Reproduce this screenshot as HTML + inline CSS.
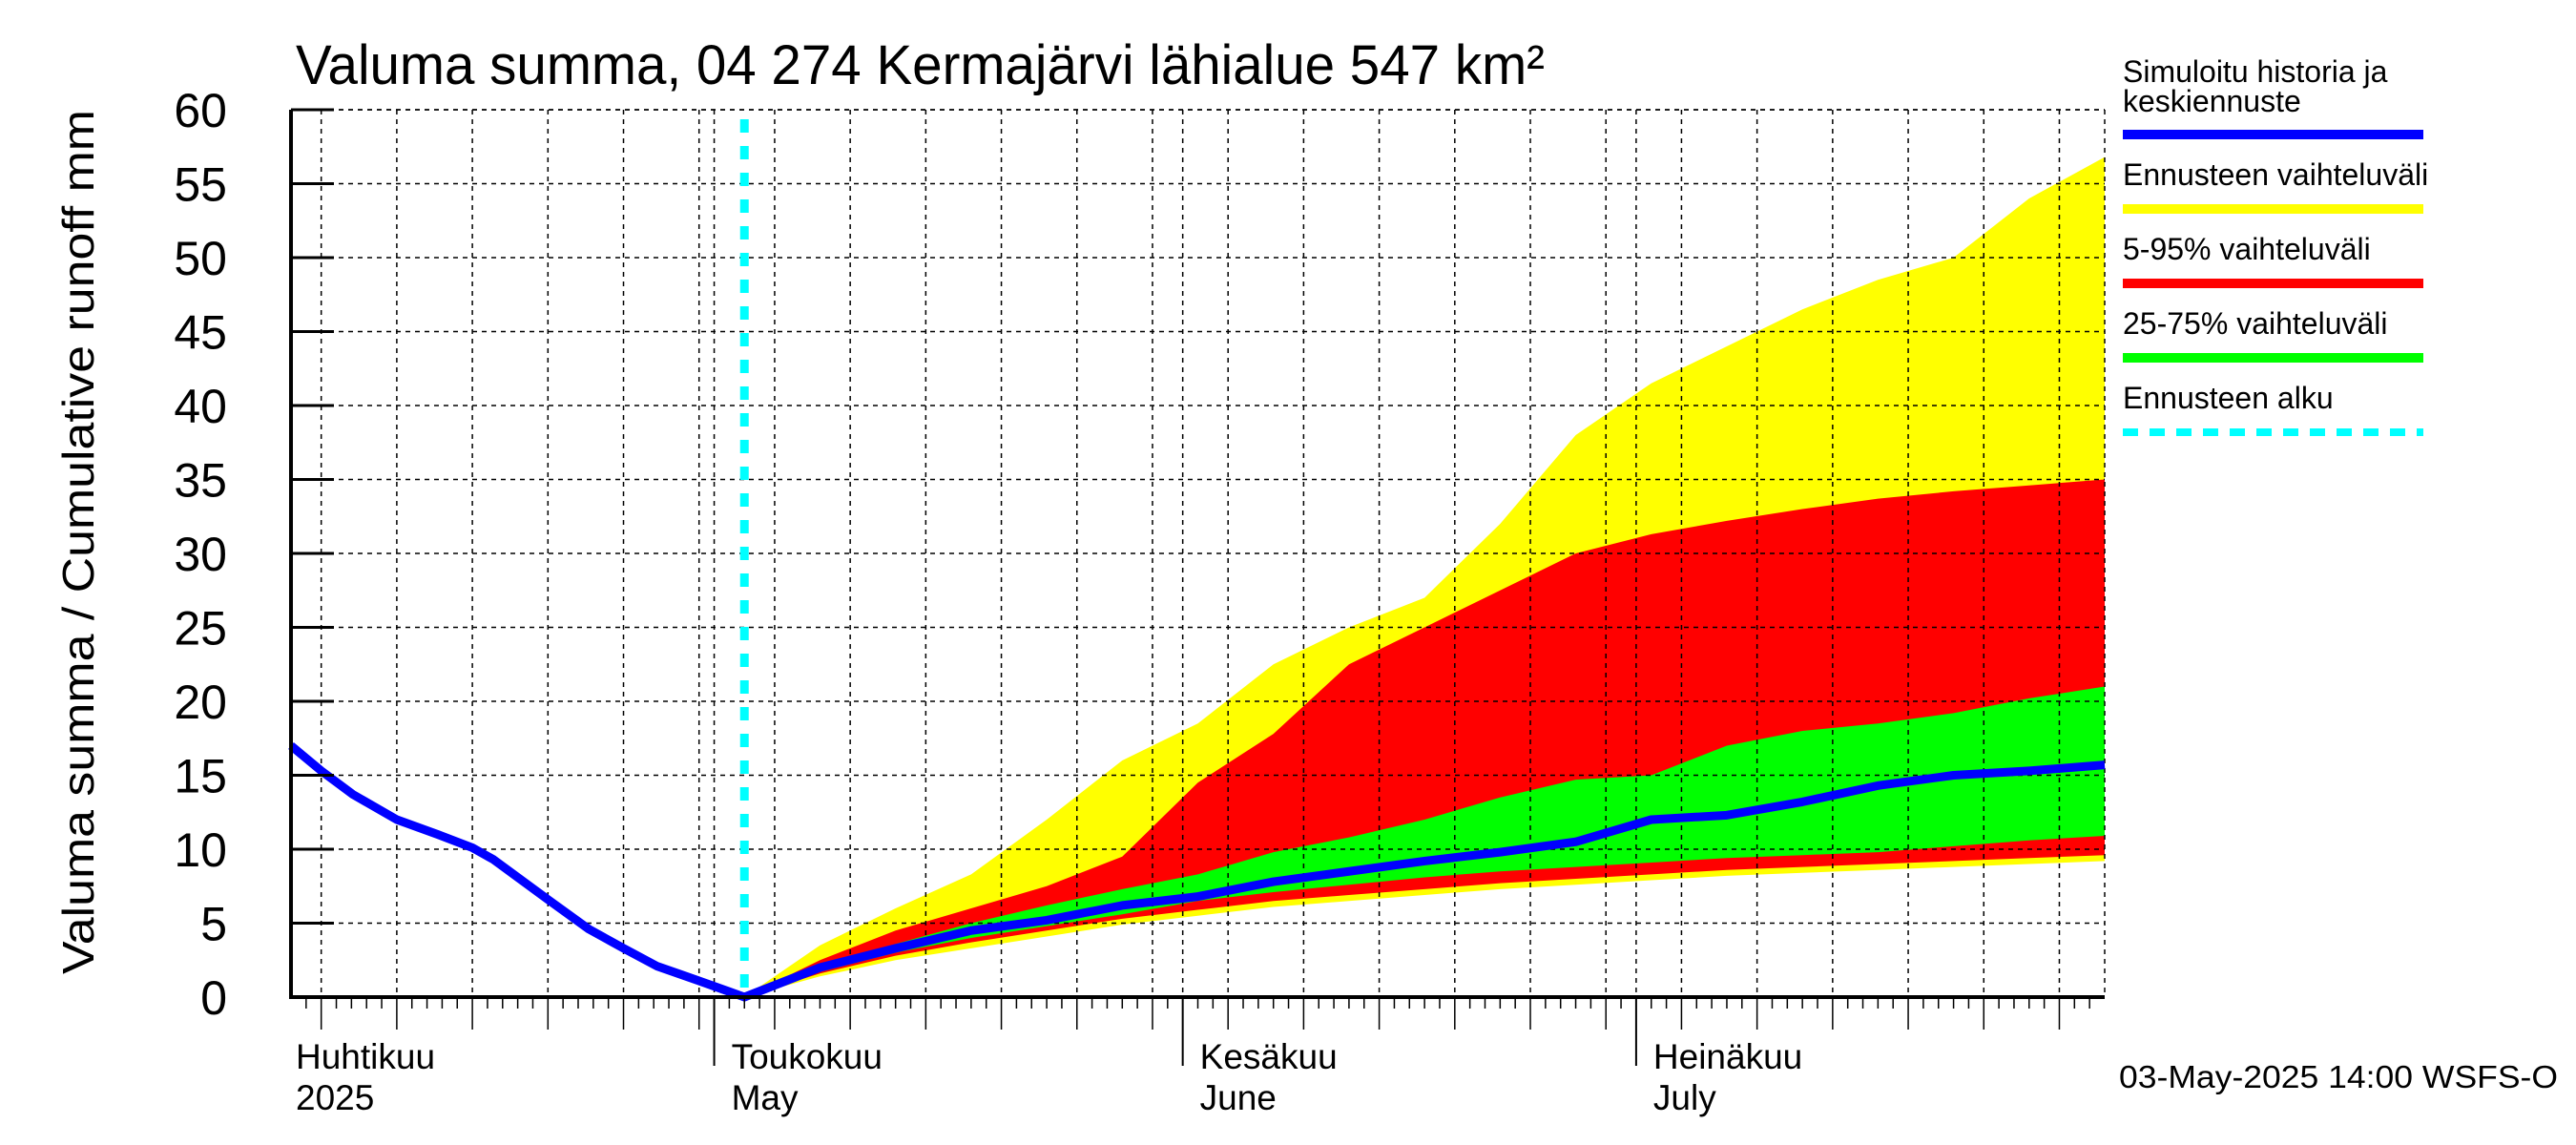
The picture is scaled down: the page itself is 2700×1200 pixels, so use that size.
<!DOCTYPE html>
<html><head><meta charset="utf-8"><style>
html,body{margin:0;padding:0;background:#fff}
svg{display:block}
text{font-family:"Liberation Sans",sans-serif;fill:#000}
</style></head><body>
<svg id="chart" width="2700" height="1200" viewBox="0 0 2700 1200" xmlns="http://www.w3.org/2000/svg">
<rect width="2700" height="1200" fill="#fff"/>
<g id="bands"></g>
<g id="grid"></g>
<g id="lines"></g>
<g id="axes"></g>
<text x="310" y="88" font-size="58" textLength="1309" lengthAdjust="spacingAndGlyphs">Valuma summa, 04 274 Kermajärvi lähialue 547 km²</text>
<text transform="translate(98,1021) rotate(-90)" font-size="46" textLength="906" lengthAdjust="spacingAndGlyphs">Valuma summa / Cumulative runoff    mm</text>
<g>
<text x="2225" y="86" font-size="32">Simuloitu historia ja</text>
<text x="2225" y="117" font-size="32">keskiennuste</text>
<line x1="2225" y1="141" x2="2540" y2="141" stroke="#0000ff" stroke-width="10"/>
<text x="2225" y="194" font-size="32">Ennusteen vaihteluväli</text>
<line x1="2225" y1="219" x2="2540" y2="219" stroke="#ffff00" stroke-width="10"/>
<text x="2225" y="272" font-size="32">5-95% vaihteluväli</text>
<line x1="2225" y1="297" x2="2540" y2="297" stroke="#ff0000" stroke-width="10"/>
<text x="2225" y="350" font-size="32">25-75% vaihteluväli</text>
<line x1="2225" y1="375" x2="2540" y2="375" stroke="#00ff00" stroke-width="10"/>
<text x="2225" y="428" font-size="32">Ennusteen alku</text>
<line x1="2225" y1="453" x2="2540" y2="453" stroke="#00ffff" stroke-width="8" stroke-dasharray="16,12"/>
</g>
<text x="2221" y="1140" font-size="33" textLength="460" lengthAdjust="spacingAndGlyphs">03-May-2025 14:00 WSFS-O</text>
</svg>
<script>
// days since 3 Apr 2025
const histT = [0, 2, 4.1, 7, 9.7, 12, 13.4, 17, 19.7, 22, 24.2, 27, 30];
const histV = [17, 15.3, 13.7, 12.0, 11.0, 10.1, 9.3, 6.6, 4.6, 3.3, 2.1, 1.1, 0];
const fcT = [30,35,40,45,50,55,60,65,70,75,80,85,90,95,100,105,110,115,120];
const median = [0,2.0,3.3,4.5,5.2,6.2,6.8,7.8,8.5,9.2,9.8,10.5,12.0,12.3,13.2,14.3,15.0,15.3,15.7];
const maxV = [0,3.5,6.0,8.3,12.0,16.0,18.5,22.5,25.0,27.0,32.0,38.0,41.5,44.0,46.5,48.5,50.0,54.0,56.8];
const p95 = [0,2.5,4.5,6.0,7.5,9.5,14.5,17.8,22.5,25.0,27.5,30.0,31.3,32.2,33.0,33.7,34.2,34.6,35.0];
const p75 = [0,1.8,3.6,5.0,6.2,7.3,8.3,9.8,10.8,12.0,13.5,14.7,15.0,17.0,18.0,18.5,19.2,20.2,21.0];
const p25 = [0,1.7,3.0,4.0,4.8,5.6,6.5,7.1,7.6,8.1,8.5,8.8,9.1,9.4,9.6,9.8,10.2,10.6,10.9];
const p05 = [0,1.6,2.8,3.7,4.5,5.3,5.9,6.5,6.9,7.3,7.7,8.0,8.3,8.6,8.8,9.0,9.2,9.4,9.6];
const minV = [0,1.4,2.5,3.3,4.1,4.9,5.5,6.1,6.5,6.9,7.3,7.6,7.9,8.2,8.4,8.6,8.8,9.0,9.2];
const yTicks = [0,5,10,15,20,25,30,35,40,45,50,55,60];
const monthDays = [28, 59, 89]; // May 1, Jun 1, Jul 1
const monthLabels = [["Huhtikuu","2025"],["Toukokuu","May"],["Kesäkuu","June"],["Heinäkuu","July"]];
const forecastStart = 30;

const X0=305, X1=2206, Y0=1045, Y1=115, TMAX=120;
const xs = t => X0 + (X1-X0)*t/TMAX;
const ys = v => Y0 - (Y0-Y1)*v/60;
const NS="http://www.w3.org/2000/svg";
function mk(tag, parent, attrs){const e=document.createElementNS(NS,tag);for(const k in attrs)e.setAttribute(k,attrs[k]);parent.appendChild(e);return e;}
const bands=document.getElementById('bands'), grid=document.getElementById('grid'), lines=document.getElementById('lines'), axes=document.getElementById('axes');

function band(lo, hi, color, name){
  let d='M'+fcT.map((t,i)=>xs(t)+','+ys(hi[i])).join(' L');
  for(let i=fcT.length-1;i>=0;i--) d+=' L'+xs(fcT[i])+','+ys(lo[i]);
  const p=mk('path',bands,{d:d+'Z',fill:color});
  
  
}
band(minV,maxV,'#ffff00','band-min-max');
band(p05,p95,'#ff0000','band-5-95');
band(p25,p75,'#00ff00','band-25-75');

// grid
yTicks.forEach(v=>{ if(v===0)return;
  const l=mk('line',grid,{x1:X0,x2:X1,y1:ys(v),y2:ys(v),stroke:'#000','stroke-width':1.5,'stroke-dasharray':'5,5'});
  
  
});
for(let t=2;t<TMAX;t+=5){
  const l=mk('line',grid,{x1:xs(t),x2:xs(t),y1:Y1,y2:Y0,stroke:'#000','stroke-width':1.5,'stroke-dasharray':'5,5'});
  
  
}
monthDays.forEach(t=>{
  const l=mk('line',grid,{x1:xs(t),x2:xs(t),y1:Y1,y2:Y0,stroke:'#000','stroke-width':1.5,'stroke-dasharray':'5,5'});
  
  
});
const tb=mk('line',grid,{x1:X0,x2:X1,y1:Y1,y2:Y1,stroke:'#000','stroke-width':1.5,'stroke-dasharray':'5,5'});


const rb=mk('line',grid,{x1:X1,x2:X1,y1:Y1,y2:Y0,stroke:'#000','stroke-width':1.5,'stroke-dasharray':'5,5'});



// forecast start
const fs=mk('line',lines,{x1:xs(forecastStart),x2:xs(forecastStart),y1:125,y2:Y0,stroke:'#00ffff','stroke-width':9,'stroke-dasharray':'14,14'});



// median line
const allT=histT.concat(fcT.slice(1)), allV=histV.concat(median.slice(1));
const ml=mk('polyline',lines,{points:allT.map((t,i)=>xs(t)+','+ys(allV[i])).join(' '),fill:'none',stroke:'#0000ff','stroke-width':9,'stroke-linejoin':'round'});



// axes
const la=mk('line',axes,{x1:X0,x2:X0,y1:Y1,y2:Y0+2,stroke:'#000','stroke-width':4});


const ba=mk('line',axes,{x1:X0-2,x2:X1,y1:Y0,y2:Y0,stroke:'#000','stroke-width':4});


yTicks.forEach(v=>{
  const tk=mk('line',axes,{x1:X0,x2:X0+45,y1:ys(v),y2:ys(v),stroke:'#000','stroke-width':3});
  
  
  const tx=mk('text',axes,{x:238,y:ys(v)+18,'font-size':50,'text-anchor':'end'});
  tx.textContent=v;
  
  
});
for(let t=1;t<TMAX;t++){
  const major=(t-2)%5===0, month=monthDays.includes(t);
  const len=month?72:(major?34:12);
  const tk=mk('line',axes,{x1:xs(t),x2:xs(t),y1:Y0,y2:Y0+len,stroke:'#000','stroke-width':month?2:1.5});
  
  
}
const labX=[310].concat(monthDays.map(t=>xs(t)+18));
monthLabels.forEach((ml2,i)=>{
  const a=mk('text',axes,{x:labX[i],y:1120,'font-size':37});
  a.textContent=ml2[0];
  
  
  const b=mk('text',axes,{x:labX[i],y:1163,'font-size':37});
  b.textContent=ml2[1];
  
  
});
</script>
</body></html>
